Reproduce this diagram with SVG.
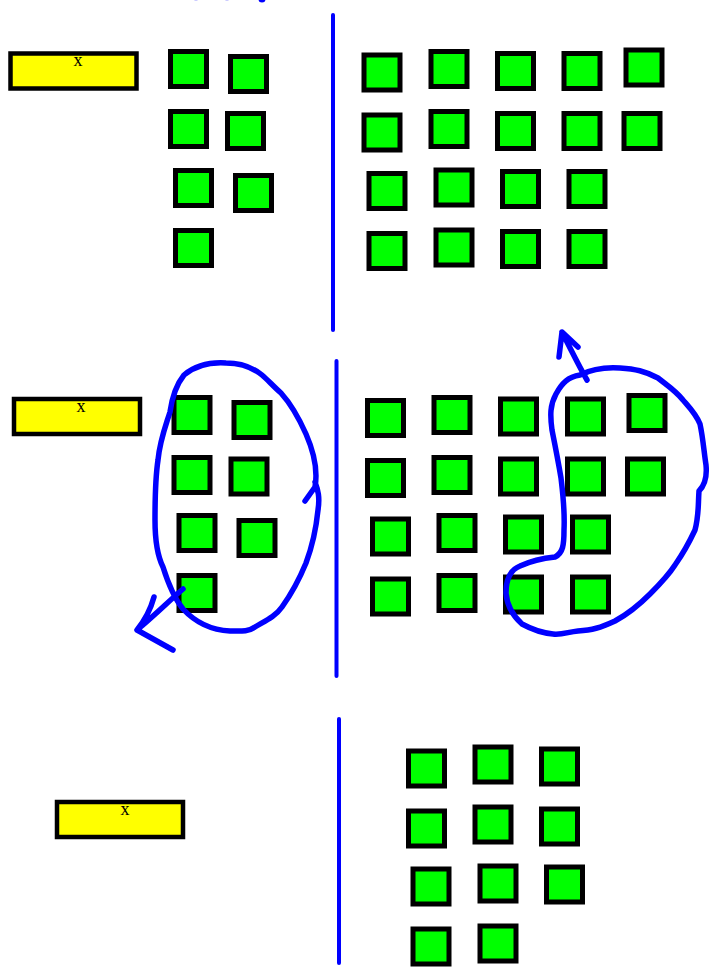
<svg xmlns="http://www.w3.org/2000/svg" width="710" height="967" viewBox="0 0 710 967">
<style>
.sq{fill:#00ff00;stroke:#000;stroke-width:5}
.yb{fill:#ffff00;stroke:#000;stroke-width:4.5}
.lbl{font-family:"Liberation Serif",serif;font-size:18px;fill:#000;text-anchor:middle}
.div{stroke:#0000ff;stroke-width:4;stroke-linecap:round;fill:none}
.pen{stroke:#0000ff;stroke-width:5.5;stroke-linecap:round;stroke-linejoin:round;fill:none}
</style>
<rect width="710" height="967" fill="#fff"/>

<!-- section 1 -->
<g id="var1"><rect class="yb" x="10.5" y="53.5" width="126" height="35"/><text class="lbl" x="78" y="66">x</text></g>
<g id="left1">
<rect class="sq" x="170.5" y="51.5" width="36" height="35"/>
<rect class="sq" x="230.5" y="56.5" width="36" height="35"/>
<rect class="sq" x="170.5" y="111.5" width="36" height="35"/>
<rect class="sq" x="227.5" y="113.5" width="36" height="35"/>
<rect class="sq" x="175.5" y="170.5" width="36" height="35"/>
<rect class="sq" x="235.5" y="175.5" width="36" height="35"/>
<rect class="sq" x="175.5" y="230.5" width="36" height="35"/>
</g>
<g id="right1">
<rect class="sq" x="364" y="55" width="36" height="35"/>
<rect class="sq" x="431" y="51.5" width="36" height="35"/>
<rect class="sq" x="497.5" y="53.5" width="36" height="35"/>
<rect class="sq" x="564" y="53.5" width="36" height="35"/>
<rect class="sq" x="626" y="50" width="36" height="35"/>
<rect class="sq" x="364" y="115" width="36" height="35"/>
<rect class="sq" x="431" y="111.5" width="36" height="35"/>
<rect class="sq" x="497.5" y="113.5" width="36" height="35"/>
<rect class="sq" x="564" y="113.5" width="36" height="35"/>
<rect class="sq" x="624" y="113.5" width="36" height="35"/>
<rect class="sq" x="369" y="173.5" width="36" height="35"/>
<rect class="sq" x="436" y="170" width="36" height="35"/>
<rect class="sq" x="502.5" y="171.5" width="36" height="35"/>
<rect class="sq" x="569" y="171.5" width="36" height="35"/>
<rect class="sq" x="369" y="233.5" width="36" height="35"/>
<rect class="sq" x="436" y="230" width="36" height="35"/>
<rect class="sq" x="502.5" y="231.5" width="36" height="35"/>
<rect class="sq" x="569" y="231.5" width="36" height="35"/>
</g>

<!-- section 2 -->
<g id="var2"><rect class="yb" x="14" y="399" width="126" height="35"/><text class="lbl" x="81" y="412">x</text></g>
<g id="left2">
<rect class="sq" x="174" y="397.5" width="36" height="35"/>
<rect class="sq" x="234" y="402.5" width="36" height="35"/>
<rect class="sq" x="174" y="457.5" width="36" height="35"/>
<rect class="sq" x="231" y="459" width="36" height="35"/>
<rect class="sq" x="179" y="515.5" width="36" height="35"/>
<rect class="sq" x="239" y="520.5" width="36" height="35"/>
<rect class="sq" x="179" y="575.5" width="36" height="35"/>
</g>
<g id="right2">
<rect class="sq" x="367.5" y="400.5" width="36" height="35"/>
<rect class="sq" x="434" y="397.5" width="36" height="35"/>
<rect class="sq" x="500.5" y="399" width="36" height="35"/>
<rect class="sq" x="567.5" y="399" width="36" height="35"/>
<rect class="sq" x="629" y="395.5" width="36" height="35"/>
<rect class="sq" x="367.5" y="460.5" width="36" height="35"/>
<rect class="sq" x="434" y="457.5" width="36" height="35"/>
<rect class="sq" x="500.5" y="459" width="36" height="35"/>
<rect class="sq" x="567.5" y="459" width="36" height="35"/>
<rect class="sq" x="627.5" y="459" width="36" height="35"/>
<rect class="sq" x="372.5" y="519" width="36" height="35"/>
<rect class="sq" x="439" y="515.5" width="36" height="35"/>
<rect class="sq" x="505.5" y="517" width="36" height="35"/>
<rect class="sq" x="572.5" y="517" width="36" height="35"/>
<rect class="sq" x="372.5" y="579" width="36" height="35"/>
<rect class="sq" x="439" y="575.5" width="36" height="35"/>
<rect class="sq" x="505.5" y="577" width="36" height="35"/>
<rect class="sq" x="572.5" y="577" width="36" height="35"/>
</g>

<!-- section 3 -->
<g id="var3"><rect class="yb" x="57" y="802" width="126" height="35"/><text class="lbl" x="125" y="815">x</text></g>
<g id="right3">
<rect class="sq" x="408.5" y="751" width="36" height="35"/>
<rect class="sq" x="475" y="747" width="36" height="35"/>
<rect class="sq" x="541.5" y="749" width="36" height="35"/>
<rect class="sq" x="408.5" y="811" width="36" height="35"/>
<rect class="sq" x="475" y="807" width="36" height="35"/>
<rect class="sq" x="541.5" y="809" width="36" height="35"/>
<rect class="sq" x="413" y="869" width="36" height="35"/>
<rect class="sq" x="480" y="866" width="36" height="35"/>
<rect class="sq" x="546.5" y="867" width="36" height="35"/>
<rect class="sq" x="413" y="929" width="36" height="35"/>
<rect class="sq" x="480" y="926" width="36" height="35"/>
</g>

<g id="connectors">
<line class="div" x1="333" y1="15" x2="333" y2="330"/>
<line class="div" x1="336.5" y1="361" x2="336.5" y2="676"/>
<line class="div" x1="339" y1="719" x2="339" y2="963"/>
<!-- top fragment -->
<circle cx="262" cy="-1" r="3.5" fill="#0000ff"/>
<circle cx="196" cy="-2.5" r="3" fill="#0000ff" opacity="0.4"/>
<circle cx="227" cy="-2.5" r="3" fill="#0000ff" opacity="0.4"/>
<!-- left loop -->
<path class="pen" d="M305,501 L315,487 C318,470 313,450 306,434 C298,416 290,403 281,393 C273,386 268,380 262,375 C252,367 240,363 226,363 C210,362 196,365 184,375 C176,385 172,398 170,412 C165,428 160,440 158,460 C155,480 155,500 155,520 C155,540 157,555 163,567 C168,583 174,598 183,609 C195,622 210,630 230,631 C240,631 248,632 255,627 C265,621 275,617 282,607 C292,593 299,580 306,563 C312,547 316,530 318,510 C320,497 318,490 315,482"/>
<path class="pen" d="M183,589 C170,600 155,615 137,630 M154,597 C151,608 145,620 137,630 L173,650"/>
<!-- right loop -->
<path class="pen" d="M587,380 C580,368 574,356 562,332 M559,357 L562,332 L578,347"/>
<path class="pen" d="M580,375 C590,370 605,367 620,368 C635,369 645,371 658,378 C668,386 676,391 683,400 C690,408 696,414 700,424 C703,438 704,452 706,465 C707,475 706,484 699,491 C698,505 699,515 695,530 C688,545 682,555 675,565 C668,576 660,584 650,594 C640,604 628,614 615,621 C600,628 592,630 578,631 C568,632 562,635 553,634 C542,633 533,630 522,624 C512,615 507,606 506,593 C506,580 510,570 520,566 C533,560 545,558 555,557 C563,553 564,545 564,530 C565,510 563,495 561,478 C558,460 555,445 552,430 C550,415 550,405 556,394 C562,383 568,377 580,375"/>
</g>
</svg>
